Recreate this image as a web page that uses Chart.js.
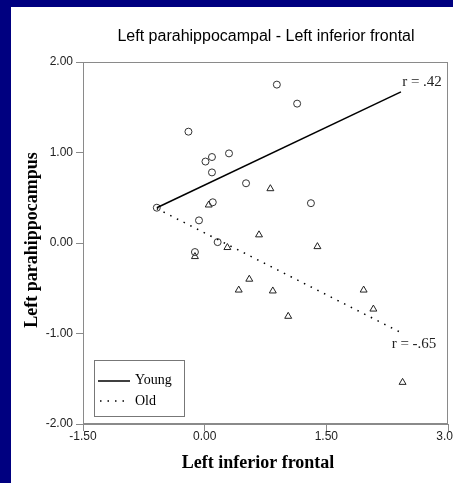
<!DOCTYPE html>
<html>
<head>
<meta charset="utf-8">
<script src="https://cdn.jsdelivr.net/npm/chart.js@4"></script>
<style>
  body { margin: 0; background: #fff; }
  canvas { display: block; }
</style>
</head>
<body>
<canvas id="report" width="453" height="483"></canvas>
<script>
// values
var youngX = [-0.20, 0.01, 0.09, 0.09, 0.30, 0.51, -0.59, 0.10, -0.07, 0.89, 1.14, 1.31, 0.16, -0.12];
var youngY = [1.23, 0.90, 0.95, 0.78, 0.99, 0.66, 0.39, 0.45, 0.25, 1.75, 1.54, 0.44, 0.01, -0.10];
var oldX = [0.05, 0.81, -0.12, 0.28, 0.67, 1.39, 0.55, 0.42, 0.84, 1.03, 1.96, 2.08, 2.44];
var oldY = [0.42, 0.60, -0.15, -0.05, 0.09, -0.04, -0.40, -0.52, -0.53, -0.81, -0.52, -0.73, -1.54];
var youngFitX = [-0.59, 2.42];
var youngFitY = [0.39, 1.67];
var oldFitX = [-0.59, 2.42];
var oldFitY = [0.38, -0.99];
var xTicks = [-1.5, 0, 1.5, 3];
var yTicks = [-2, -1, 0, 1, 2];

function pts(xs, ys) {
    return xs.map(function(x, i) { return { x: x, y: ys[i] }; });
}

var frame = {
    id: 'frame',
    beforeDraw: function(chart) {
        var c = chart.ctx;
        c.save();
        c.fillStyle = '#fff';
        c.fillRect(0, 0, chart.width, chart.height);
        c.fillStyle = '#000080';
        c.fillRect(0, 0, 11, chart.height);
        c.fillRect(0, 0, chart.width, 7);
        c.restore();
    },
    afterDraw: function(chart) {
        var c = chart.ctx;
        var a = chart.chartArea;
        c.save();
        // box round the plot
        c.strokeStyle = '#8a8a8a';
        c.lineWidth = 1;
        c.strokeRect(Math.round(a.left) + 0.5, Math.round(a.top) + 0.5,
            Math.round(a.right - a.left) - 1, Math.round(a.bottom - a.top) - 1);

        c.fillStyle = '#000';
        c.textAlign = 'center';
        c.textBaseline = 'middle';
        c.font = '16px "Liberation Sans", Arial, sans-serif';
        c.fillText('Left parahippocampal - Left inferior frontal', 266, 37);

        c.font = 'bold 18px "Liberation Serif", "Times New Roman", serif';
        c.fillText('Left inferior frontal', 258, 463);
        c.save();
        c.translate(32, 240);
        c.rotate(-Math.PI / 2);
        c.fillText('Left parahippocampus', 0, 0);
        c.restore();

        c.font = '15px "Liberation Serif", "Times New Roman", serif';
        c.fillStyle = '#222';
        c.fillText('r = .42', 422, 82);
        c.fillText('r = -.65', 414, 344);

        // legend
        c.strokeStyle = '#777';
        c.strokeRect(94.5, 360.5, 90, 56);
        c.strokeStyle = '#000';
        c.lineWidth = 1.5;
        c.beginPath();
        c.moveTo(98, 381);
        c.lineTo(130, 381);
        c.stroke();
        c.setLineDash([1.5, 6]);
        c.beginPath();
        c.moveTo(100, 401);
        c.lineTo(130, 401);
        c.stroke();
        c.setLineDash([]);
        c.fillStyle = '#000';
        c.textAlign = 'left';
        c.font = '14px "Liberation Serif", "Times New Roman", serif';
        c.fillText('Young', 135, 380);
        c.fillText('Old', 135, 401);
        c.restore();
    }
};

function noPad(s) {
    s.paddingLeft = 0;
    s.paddingRight = 0;
    s.paddingTop = 0;
    s.paddingBottom = 0;
}

const ctx = document.getElementById('report').getContext('2d');

var scoresChart = new Chart(ctx, {
    type: 'scatter',
    data: {
        datasets: [{
            label: 'Young fit',
            type: 'line',
            data: pts(youngFitX, youngFitY),
            borderColor: '#000',
            borderWidth: 1.5,
            pointRadius: 0,
            fill: false
        }, {
            label: 'Old fit',
            type: 'line',
            data: pts(oldFitX, oldFitY),
            borderColor: '#000',
            borderWidth: 1.5,
            borderDash: [1.5, 6],
            pointRadius: 0,
            fill: false
        }, {
            label: 'Young',
            data: pts(youngX, youngY),
            pointStyle: 'circle',
            pointRadius: 3.5,
            backgroundColor: 'rgba(0,0,0,0)',
            borderColor: '#333',
            borderWidth: 1
        }, {
            label: 'Old',
            data: pts(oldX, oldY),
            pointStyle: 'triangle',
            pointRadius: 4,
            backgroundColor: 'rgba(0,0,0,0)',
            borderColor: '#222',
            borderWidth: 1
        }]
    },
    options: {
        responsive: false,
        animation: false,
        devicePixelRatio: 1,
        layout: { padding: { top: 62, left: 0, right: 5, bottom: 0 } },
        plugins: {
            legend: { display: false },
            title: { display: false },
            tooltip: { enabled: false }
        },
        scales: {
            x: {
                type: 'linear',
                min: -1.5,
                max: 3,
                afterBuildTicks: function(s) { s.ticks = xTicks.map(function(v) { return { value: v }; }); },
                afterFit: function(s) { s.height = 59; noPad(s); },
                grid: { drawOnChartArea: false, drawTicks: true, tickLength: 7, color: '#8a8a8a' },
                border: { display: true, color: '#8a8a8a' },
                ticks: {
                    padding: -2,
                    color: '#222',
                    maxRotation: 0,
                    font: { family: '"Liberation Sans", Arial, sans-serif', size: 12 },
                    callback: function(v) { return Number(v).toFixed(2); }
                }
            },
            y: {
                type: 'linear',
                min: -2,
                max: 2,
                afterBuildTicks: function(s) { s.ticks = yTicks.map(function(v) { return { value: v }; }); },
                afterFit: function(s) { s.width = 83; noPad(s); },
                grid: { drawOnChartArea: false, drawTicks: true, tickLength: 7, color: '#8a8a8a' },
                border: { display: true, color: '#8a8a8a' },
                ticks: {
                    padding: 3,
                    color: '#222',
                    font: { family: '"Liberation Sans", Arial, sans-serif', size: 12 },
                    callback: function(v) { return Number(v).toFixed(2); }
                }
            }
        }
    },
    plugins: [frame]
});
</script>
</body>
</html>
